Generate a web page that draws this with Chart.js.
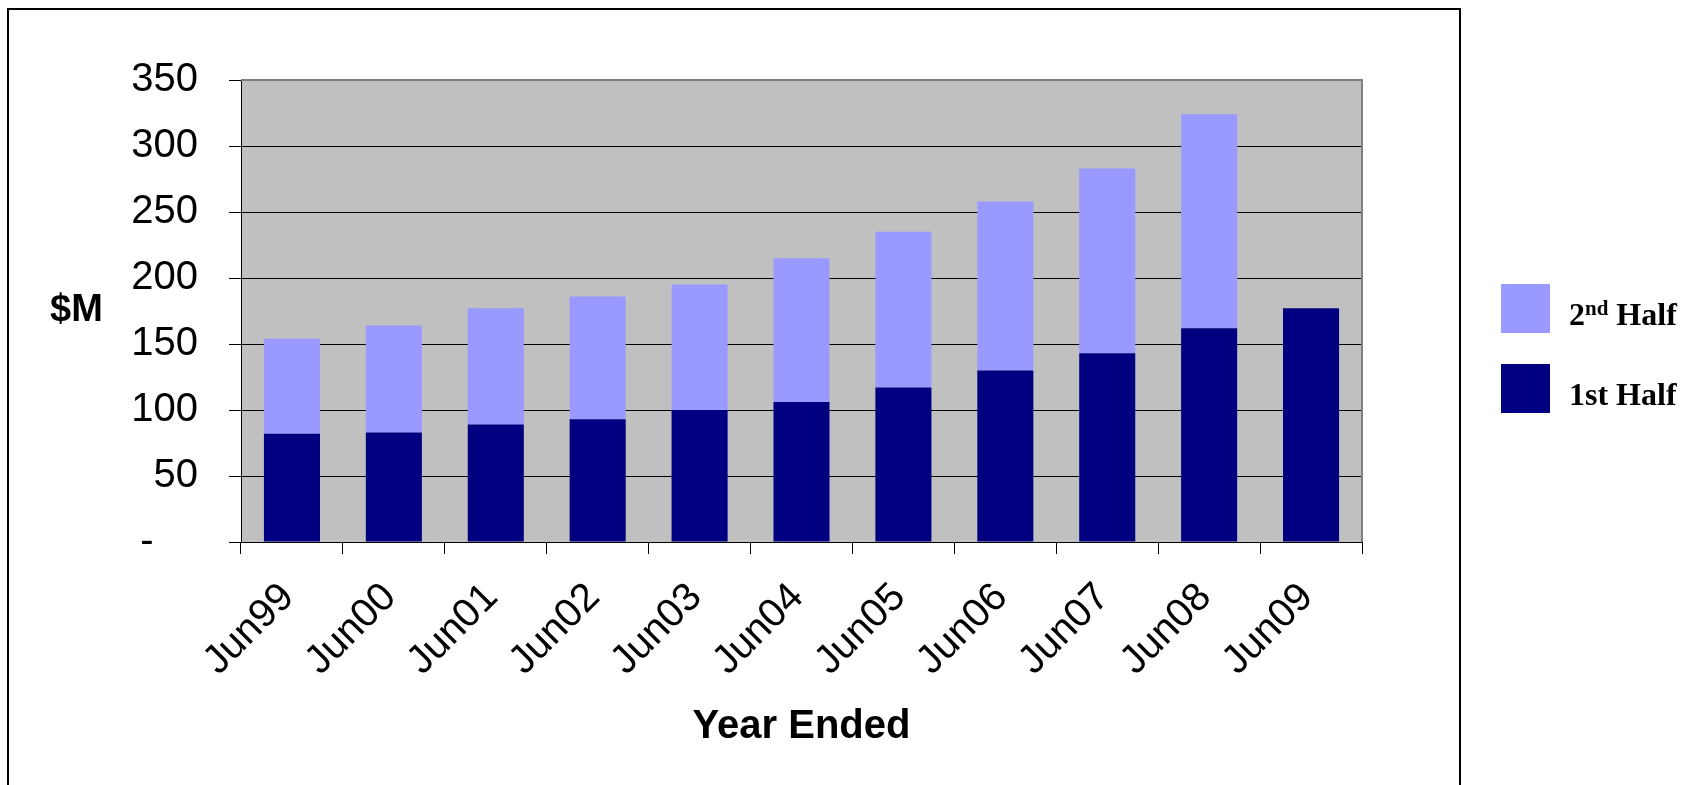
<!DOCTYPE html>
<html><head><meta charset="utf-8">
<script src="https://cdn.jsdelivr.net/npm/chart.js@4.4.1/dist/chart.umd.min.js"></script>
<style>html,body{margin:0;padding:0;background:#fff;overflow:hidden}</style>
</head><body>
<canvas id="c" width="1681" height="785"></canvas>
<script>
const categories = ['Jun99','Jun00','Jun01','Jun02','Jun03','Jun04','Jun05','Jun06','Jun07','Jun08','Jun09'];
const firstHalf  = [82, 83, 89, 93, 100, 106, 117, 130, 143, 162, 177];
const secondHalf = [72, 81, 88, 93, 95, 109, 118, 128, 140, 162, null];
const yMin = 0, yMax = 350, yStep = 50;
const zeroTickLabel = '-    ';
const yAxisLabel = '$M';
const xAxisLabel = 'Year Ended';
const legendLabels = ['1st Half', '2^nd Half']; // ^ marks superscript part

const plain = s => s.replace('^', '');

const bgPlugin = {
  id: 'bg',
  beforeDraw(chart) {
    const {ctx, chartArea: a} = chart;
    ctx.save();
    ctx.fillStyle = '#ffffff';
    ctx.fillRect(0, 0, chart.width, chart.height);
    ctx.fillStyle = '#C0C0C0';
    ctx.fillRect(a.left, a.top, a.right - a.left, a.bottom - a.top);
    ctx.restore();
  },
  afterDatasetsDraw(chart) {
    const {ctx, chartArea: a} = chart;
    ctx.save();
    ctx.strokeStyle = '#808080';
    ctx.lineWidth = 2;
    ctx.beginPath();
    ctx.moveTo(a.left, a.top);
    ctx.lineTo(a.right, a.top);
    ctx.lineTo(a.right, a.bottom);
    ctx.stroke();
    ctx.restore();
  },
  afterDraw(chart) {
    const {ctx, chartArea: a} = chart;
    ctx.save();
    // outer frame
    ctx.strokeStyle = '#000';
    ctx.lineWidth = 2;
    ctx.beginPath();
    ctx.moveTo(8, chart.height + 5);
    ctx.lineTo(8, 9);
    ctx.lineTo(1460, 9);
    ctx.lineTo(1460, chart.height + 5);
    ctx.stroke();
    // horizontal y-axis title
    ctx.fillStyle = '#000';
    ctx.font = 'bold 38px "Liberation Sans", Arial, sans-serif';
    ctx.textAlign = 'left';
    ctx.textBaseline = 'middle';
    ctx.fillText(yAxisLabel, 50, (a.top + a.bottom) / 2);
    // legend (reverse order, top = last dataset)
    const ds = chart.data.datasets;
    const sq = 49, x0 = 1501, rowTop = [284, 364];
    for (let i = ds.length - 1, r = 0; i >= 0; i--, r++) {
      const y = rowTop[r];
      ctx.fillStyle = ds[i].backgroundColor;
      ctx.fillRect(x0, y, sq, sq);
      const lab = legendLabels[i];
      const base = y + sq - 8;
      ctx.fillStyle = '#000';
      ctx.textBaseline = 'alphabetic';
      let x = 1569;
      const m = lab.match(/^(.*?)\^(\w+)(.*)$/);
      const big = 'bold 32px "Liberation Serif", "Times New Roman", serif';
      const small = 'bold 21px "Liberation Serif", "Times New Roman", serif';
      if (m) {
        ctx.font = big; ctx.fillText(m[1], x, base); x += ctx.measureText(m[1]).width;
        ctx.font = small; ctx.fillText(m[2], x, base - 10); x += ctx.measureText(m[2]).width;
        ctx.font = big; ctx.fillText(m[3], x, base);
      } else {
        ctx.font = big; ctx.fillText(lab, x, base);
      }
    }
    ctx.restore();
  }
};

new Chart(document.getElementById('c'), {
  type: 'bar',
  data: {
    labels: categories,
    datasets: [
      { label: plain(legendLabels[0]), data: firstHalf, backgroundColor: '#000080', borderWidth: 0 },
      { label: plain(legendLabels[1]), data: secondHalf, backgroundColor: '#9999FF', borderWidth: 0 }
    ]
  },
  options: {
    responsive: false,
    animation: false,
    devicePixelRatio: 1,
    layout: { padding: { left: 0, top: 80, right: 319, bottom: 0 } },
    plugins: { legend: { display: false }, tooltip: { enabled: false } },
    datasets: { bar: { barPercentage: 0.55, categoryPercentage: 1.0 } },
    scales: {
      x: {
        stacked: true,
        afterFit(s) { s.height = 243; },
        grid: { display: true, drawOnChartArea: false, drawTicks: true, tickLength: 12, color: '#000', offset: true },
        border: { display: true, color: '#000', width: 1 },
        ticks: {
          autoSkip: false, minRotation: 45, maxRotation: 45, padding: 20, labelOffset: -4,
          color: '#000', font: { family: '"Liberation Sans", Arial, sans-serif', size: 40 }
        },
        title: {
          display: true, text: xAxisLabel, color: '#000',
          font: { family: '"Liberation Sans", Arial, sans-serif', size: 40, weight: 'bold' },
          padding: { top: 0, bottom: 34 }
        }
      },
      y: {
        stacked: true,
        min: yMin, max: yMax,
        afterFit(s) { s.width = 241; },
        grid: { color: '#000', lineWidth: 1, tickLength: 12, drawTicks: true },
        border: { display: true, color: '#000', width: 1 },
        ticks: {
          stepSize: yStep, padding: 31, color: '#000',
          font: { family: '"Liberation Sans", Arial, sans-serif', size: 40 },
          callback: v => v === 0 ? zeroTickLabel : String(v)
        }
      }
    }
  },
  plugins: [bgPlugin]
});
</script>
</body></html>
